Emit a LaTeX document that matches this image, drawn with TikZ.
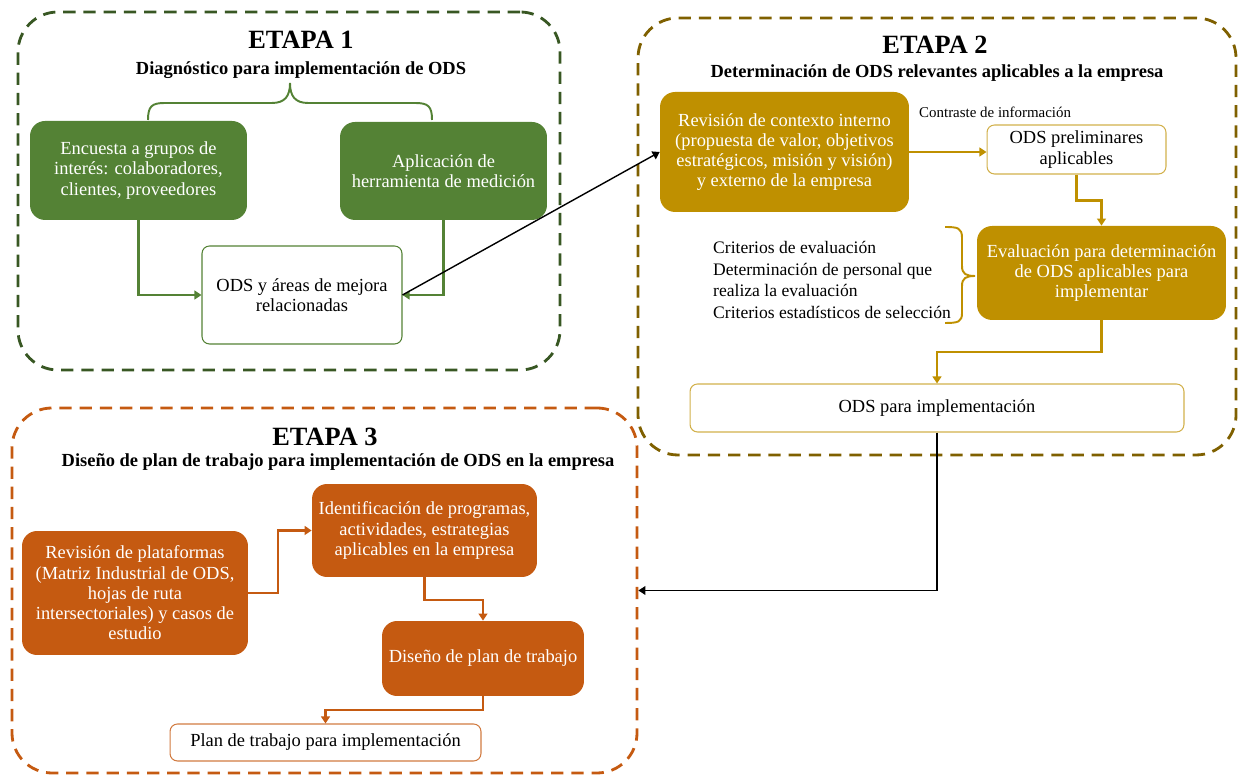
\documentclass[tikz,border=0pt]{standalone}
\usepackage{fontspec}
\setmainfont{Liberation Serif}
\usetikzlibrary{positioning,fit,arrows.meta}

\definecolor{verde}{HTML}{548235}
\definecolor{verdeosc}{HTML}{385723}
\definecolor{oro}{HTML}{BF9000}
\definecolor{orooscuro}{HTML}{7F6000}
\definecolor{naranja}{HTML}{C55A11}

\begin{document}
\begin{tikzpicture}[
		x=0.02cm, y=0.02cm,
		>={Triangle[length=4pt,width=5pt]},
		stage/.style={draw, line width=1.6pt, dash pattern=on 7pt off 4.5pt, rounded corners=0.8cm, inner sep=0pt},
		box/.style={rounded corners=0.3cm, align=center, text=white, inner sep=2pt, font=\fontsize{10.5}{11.5}\selectfont},
		outbox/.style={draw, fill=white, rounded corners=0.15cm, align=center, line width=0.6pt, inner sep=2pt, font=\fontsize{10.5}{11.5}\selectfont},
		title/.style={font=\bfseries\fontsize{15}{18}\selectfont},
		subtitle/.style={font=\bfseries\fontsize{10.5}{12}\selectfont},
		arrow/.style={->, line width=1.3pt},
		link/.style={->, line width=0.8pt, black}
	]
		\useasboundingbox (0,0) rectangle (1239,776);

		% etapas
		\node[stage, draw=verdeosc, fit={(18,764) (560,406)}] (etapa1) {};
		\node[stage, draw=orooscuro, fit={(638,758) (1236,321)}] (etapa2) {};
		\node[stage, draw=naranja, fit={(12,368) (637,3)}] (etapa3) {};

		\node[title] (t1) at (301,736) {ETAPA 1};
		\node[subtitle] (s1) at (301,706) {Diagnóstico para implementación de ODS};
		\node[title] (t2) at (935,731) {ETAPA 2};
		\node[subtitle] (s2) at (937,703) {Determinación de ODS relevantes aplicables a la empresa};
		\node[title] (t3) at (325,339) {ETAPA 3};
		\node[subtitle] (s3) at (338,314) {Diseño de plan de trabajo para implementación de ODS en la empresa};

		% etapa 1
		\node[box, fill=verde, minimum width=4.34cm, minimum height=1.98cm] (encuesta) at (138.5,605.5) {Encuesta a grupos de\\interés: colaboradores,\\clientes, proveedores};
		\node[box, fill=verde, minimum width=4.14cm, minimum height=1.96cm] (aplicacion) at (443.5,605) {Aplicación de\\herramienta de medición};
		\node[outbox, draw=verde, minimum width=4cm, minimum height=1.96cm] (odsareas) at (302,481) {ODS y áreas de mejora\\relacionadas};

		\draw[verde, line width=1.1pt] (148,656) .. controls (148,670) and (152,673) .. (165,673) -- (272,673) .. controls (285,673) and (290,680) .. (290,693) .. controls (290,680) and (295,673) .. (308,673) -- (415,673) .. controls (428,673) and (432,670) .. (432,656);

		\draw[arrow, verde] (encuesta.south) |- (odsareas.west);
		\draw[arrow, verde] (aplicacion.south) |- (odsareas.east);

		% etapa 2
		\node[box, fill=oro, minimum width=4.98cm, minimum height=2.4cm] (contexto) at (784.5,624) {Revisión de contexto interno\\(propuesta de valor, objetivos\\estratégicos, misión y visión)\\y externo de la empresa};
		\node[outbox, draw=oro!70, minimum width=3.58cm, minimum height=0.98cm] (preliminares) at (1076.5,626.5) {ODS preliminares\\aplicables};
		\node[anchor=west, font=\fontsize{8.5}{10}\selectfont] (contraste) at (913,664) {Contraste de información};
		\node[box, fill=oro, minimum width=4.98cm, minimum height=1.88cm] (evaluacion) at (1101.5,503) {Evaluación para determinación\\de ODS aplicables para\\implementar};
		\node[anchor=west, align=left, font=\fontsize{10}{12.3}\selectfont] (criterios) at (707,496) {Criterios de evaluación\\Determinación de personal que\\realiza la evaluación\\Criterios estadísticos de selección};
		\node[outbox, draw=oro!70, minimum width=9.88cm, minimum height=0.96cm] (odsimpl) at (937,368) {ODS para implementación};

		\draw[oro, line width=1.1pt] (945,549) .. controls (958,549) and (962,548) .. (962,538) -- (962,510) .. controls (962,502) and (966,500) .. (975,500) .. controls (966,500) and (962,498) .. (962,490) -- (962,463) .. controls (962,454) and (958,453) .. (945,453);

		\draw[arrow, oro] (contexto.east) -- (contexto.east -| preliminares.west);
		\draw[arrow, oro] (preliminares.south) -- ++(0,-26) -| (evaluacion.north);
		\draw[arrow, oro] (evaluacion.south) -- ++(0,-32) -| (odsimpl.north);

		% etapa 3
		\node[box, fill=naranja, minimum width=4.52cm, minimum height=2.48cm] (plataformas) at (135,183) {Revisión de plataformas\\(Matriz Industrial de ODS,\\hojas de ruta\\intersectoriales) y casos de\\estudio};
		\node[box, fill=naranja, minimum width=4.5cm, minimum height=1.86cm] (programas) at (424.5,245.5) {Identificación de programas,\\actividades, estrategias\\aplicables en la empresa};
		\node[box, fill=naranja, minimum width=4.04cm, minimum height=1.5cm] (diseno) at (483,117.5) {Diseño de plan de trabajo};
		\node[outbox, draw=naranja!80, minimum width=6.22cm, minimum height=0.74cm] (plan) at (325.5,33.5) {Plan de trabajo para implementación};

		\draw[arrow, naranja] (plataformas.east) -- ++(30,0) |- (programas.west);
		\draw[arrow, naranja] (programas.south) -- ++(0,-23) -| (diseno.north);
		\draw[arrow, naranja] (diseno.south) -- ++(0,-14) -| (plan.north);

		% entre etapas
		\draw[link] (odsareas.east) -- (contexto.west);
		\draw[link] (odsimpl.south) |- (etapa3.east);
	\end{tikzpicture}
\end{document}
